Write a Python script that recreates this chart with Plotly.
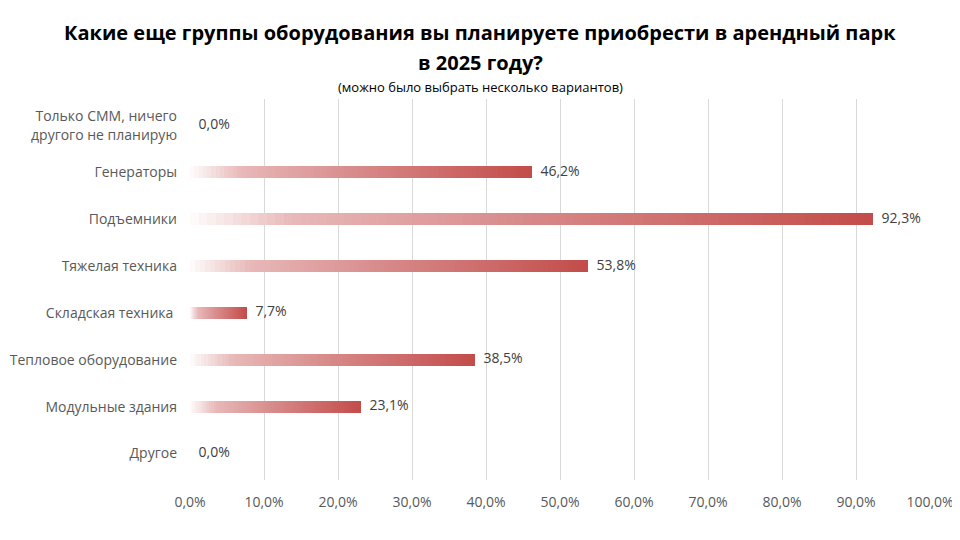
import plotly.graph_objects as go

categories = [
    "Только СММ, ничего<br>другого не планирую",
    "Генераторы",
    "Подъемники",
    "Тяжелая техника",
    "Складская техника ",
    "Тепловое оборудование",
    "Модульные здания",
    "Другое",
]
shares = [0.0, 0.462, 0.923, 0.538, 0.077, 0.385, 0.231, 0.0]
labels = ["0,0%", "46,2%", "92,3%", "53,8%", "7,7%", "38,5%", "23,1%", "0,0%"]
x_ticks = [0.0, 0.1, 0.2, 0.3, 0.4, 0.5, 0.6, 0.7, 0.8, 0.9, 1.0]

TITLE_1 = "Какие еще группы оборудования вы планируете приобрести в арендный парк"
TITLE_2 = "в 2025 году?"
SUBTITLE = "(можно было выбрать несколько вариантов)"

# gradient stops along each bar (fraction of bar length -> rgb)
GRAD_STOPS = [
    (0.0, (255, 253, 253)),
    (0.15, (232, 184, 184)),
    (0.5, (215, 136, 136)),
    (1.0, (195, 76, 74)),
]
N_SEG = 80

# page has an 8px body margin, so the figure is drawn 8px smaller and shifted
W, H = 952, 532
M_L, M_R, M_T, M_B = 182, 30, 91, 60
plot_w = W - M_L - M_R
plot_h = H - M_T - M_B


def grad_color(t):
    for (t0, c0), (t1, c1) in zip(GRAD_STOPS, GRAD_STOPS[1:]):
        if t <= t1:
            f = (t - t0) / (t1 - t0)
            r, g, b = (round(a + (b_ - a) * f) for a, b_ in zip(c0, c1))
            return f"rgb({r},{g},{b})"
    return "rgb(%d,%d,%d)" % GRAD_STOPS[-1][1]


def px_x(x):
    return (x - M_L) / plot_w


def px_y(y):
    return 1 + (M_T - y) / plot_h


fig = go.Figure()

# each bar is cut into N_SEG slices so the fill fades from white to red
for k in range(N_SEG):
    fig.add_trace(go.Bar(
        y=categories,
        x=[v / N_SEG for v in shares],
        base=[v * k / N_SEG for v in shares],
        orientation="h",
        width=0.26,
        marker=dict(color=grad_color((k + 0.5) / N_SEG), line=dict(width=0)),
        hoverinfo="skip",
        showlegend=False,
    ))

# invisible markers push the value labels a few px off the bar end
fig.add_trace(go.Scatter(
    y=categories,
    x=shares,
    text=labels,
    mode="markers+text",
    marker=dict(size=12, opacity=0),
    textposition="middle right",
    textfont=dict(size=14, color="#404040", family="Open Sans"),
    hoverinfo="skip",
    showlegend=False,
    cliponaxis=False,
))

fig.update_layout(
    width=W,
    height=H,
    barmode="overlay",
    bargap=0,
    paper_bgcolor="white",
    plot_bgcolor="white",
    margin=dict(l=M_L, r=M_R, t=M_T, b=M_B, autoexpand=False),
    separators=", ",
    font=dict(family="Open Sans", color="#595959", size=14),
    annotations=[
        dict(text="<b>" + TITLE_1 + "</b>", x=px_x(472), y=px_y(24),
             font=dict(size=20, color="#000000")),
        dict(text="<b>" + TITLE_2 + "</b>", x=px_x(472), y=px_y(54),
             font=dict(size=20, color="#000000")),
        dict(text=SUBTITLE, x=px_x(472), y=px_y(79),
             font=dict(size=13, color="#000000")),
    ],
)
fig.update_annotations(xref="paper", yref="paper", xanchor="center",
                       yanchor="middle", showarrow=False)

fig.update_xaxes(
    range=[0, 1],
    tickvals=x_ticks,
    tickformat=".1%",
    showgrid=True,
    gridcolor="#D9D9D9",
    gridwidth=1,
    zeroline=False,
    showline=False,
    ticks="",
    ticklabelstandoff=12,
    tickfont=dict(size=14, color="#595959"),
)
fig.update_yaxes(
    categoryorder="array",
    categoryarray=categories[::-1],
    showgrid=False,
    zeroline=False,
    showline=False,
    ticks="",
    ticklabelstandoff=12,
    tickfont=dict(size=14, color="#595959"),
)

fig.write_html("out.html")
